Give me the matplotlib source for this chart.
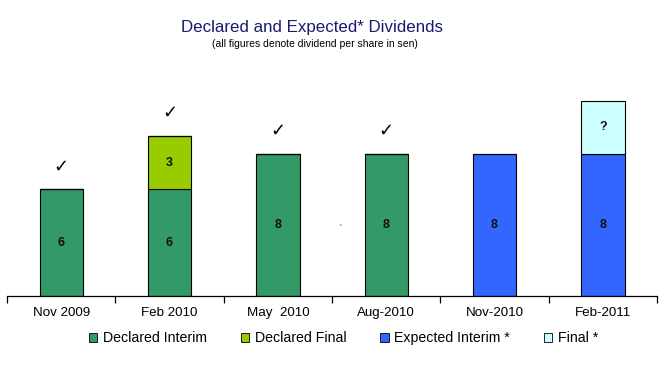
import numpy as np
import matplotlib.pyplot as plt
from matplotlib.patches import Patch

# datos
periodos = ["Nov 2009", "Feb 2010", "May  2010", "Aug-2010", "Nov-2010", "Feb-2011"]
declared_interim = [6, 6, 8, 8, 0, 0]
declared_final = [0, 3, 0, 0, 0, 0]
expected_interim = [0, 0, 0, 0, 8, 8]
final_esperado = [0, 0, 0, 0, 0, 3]
declarado = [True, True, True, True, False, False]

series = [
    ("Declared Interim", declared_interim, "#339966"),
    ("Declared Final", declared_final, "#99CC00"),
    ("Expected Interim *", expected_interim, "#3366FF"),
    ("Final *", final_esperado, "#CCFFFF"),
]

plt.rcParams['font.family'] = ['Liberation Sans', 'DejaVu Sans']

fig = plt.figure(figsize=(6.67, 3.81), dpi=100)
ax = fig.add_axes([7 / 667, 85 / 381, 650 / 667, 231 / 381])

x = np.arange(len(periodos))
base = np.zeros(len(periodos))
for nombre, vals, color in series:
    vals = np.array(vals, dtype=float)
    ax.bar(x, vals, width=0.4, bottom=base, color=color, edgecolor="black", linewidth=0.8)
    for i, v in enumerate(vals):
        if v > 0:
            etiqueta = "?" if nombre == "Final *" else f"{int(v)}"
            ax.text(x[i], base[i] + v / 2, etiqueta, ha="center", va="center",
                    fontsize=9, fontweight="bold", color="#111111")
    base += vals

# marcas de verificación sobre las barras declaradas
for i, ok in enumerate(declarado):
    if ok:
        ax.text(x[i], base[i] + 1.3, "\u2713", ha="center", va="center",
                fontsize=13, fontweight="bold", color="black", family=["DejaVu Sans"])

# caracter suelto
ax.text(2.575, 3.7, "`", ha="center", va="center", fontsize=8, color="#444444")

ax.set_xlim(-0.5, len(periodos) - 0.5)
ax.set_ylim(0, 13)
for lado in ["top", "right", "left"]:
    ax.spines[lado].set_visible(False)
ax.spines["bottom"].set_linewidth(0.9)
ax.set_yticks([])
ax.set_xticks(np.arange(-0.5, len(periodos)), minor=False)
ax.set_xticklabels([])
ax.tick_params(axis="x", direction="out", length=5, width=0.9)
for i, lab in enumerate(periodos):
    ax.text(x[i], -0.95, lab, ha="center", va="center", fontsize=9.6, color="black")

fig.text(0.4685, 0.929, "Declared and Expected* Dividends", ha="center", va="center",
         fontsize=12.2, color="#1A1A6E")
fig.text(0.472, 0.884, "(all figures denote dividend per share in sen)", ha="center",
         va="center", fontsize=7.5, color="black")

handles = [Patch(facecolor=c, edgecolor="black", linewidth=0.6) for _, _, c in series]
fig.legend(handles, [s[0] for s in series], ncol=4, loc="center",
           bbox_to_anchor=(0.515, 0.112), frameon=False, fontsize=10.2,
           handlelength=0.58, handleheight=0.58, handletextpad=0.4, columnspacing=2.4,
           borderaxespad=0, borderpad=0)

fig.savefig("out.png", dpi=100)
